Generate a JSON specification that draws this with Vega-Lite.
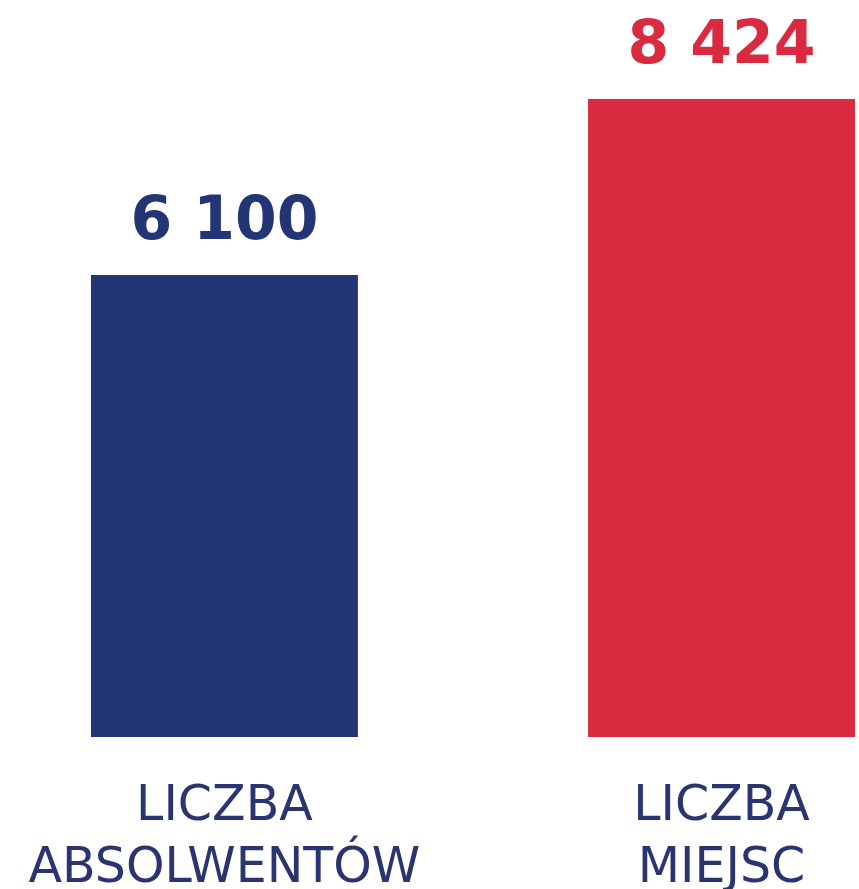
{
  "$schema": "https://vega.github.io/schema/vega-lite/v6.json",
  "width": 859,
  "height": 737,
  "autosize": {"type": "none"},
  "padding": {"left": 0, "top": 0, "right": 0, "bottom": 152},
  "background": "white",
  "config": {"view": {"stroke": null}},
  "data": {
    "values": [
      {"kategoria": "LICZBA ABSOLWENTÓW", "wartosc": 6100, "etykieta": "6 100"},
      {"kategoria": "LICZBA MIEJSC", "wartosc": 8424, "etykieta": "8 424"}
    ]
  },
  "encoding": {
    "x": {
      "field": "kategoria",
      "type": "nominal",
      "sort": null,
      "scale": {"paddingInner": 0.463, "paddingOuter": 0.0955, "align": 0.958},
      "axis": {
        "title": null,
        "domain": false,
        "ticks": false,
        "labelAngle": 0,
        "labelExpr": "split(datum.label, ' ')",
        "labelFont": "DejaVu Sans",
        "labelFontWeight": "normal",
        "labelFontSize": 49,
        "labelColor": "#2a3470",
        "labelLineHeight": 62,
        "labelPadding": 82,
        "labelBaseline": "alphabetic",
        "labelLimit": 0,
        "labelOverlap": false
      }
    },
    "y": {
      "field": "wartosc",
      "type": "quantitative",
      "scale": {"domain": [0, 9731], "nice": false},
      "axis": null
    },
    "color": {
      "field": "kategoria",
      "type": "nominal",
      "scale": {"range": ["#233574", "#d92a40"]},
      "legend": null
    }
  },
  "layer": [
    {"mark": {"type": "bar"}},
    {
      "mark": {"type": "text", "baseline": "alphabetic", "dy": -36, "font": "DejaVu Sans", "fontWeight": "bold", "fontSize": 60},
      "encoding": {"text": {"field": "etykieta"}}
    }
  ]
}
